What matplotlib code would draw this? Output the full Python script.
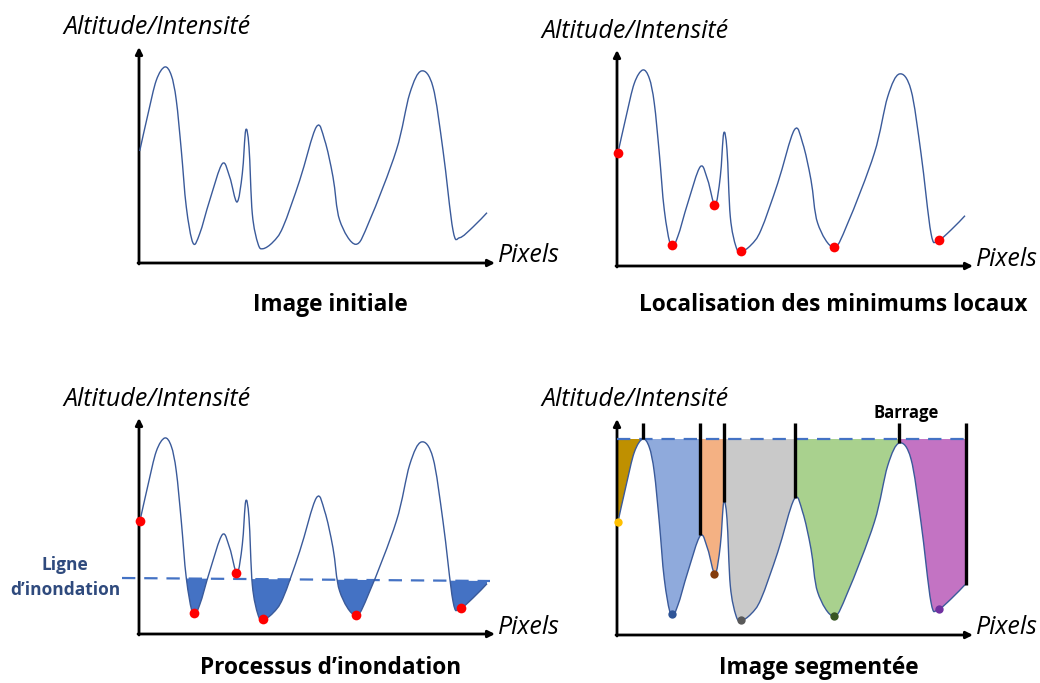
import matplotlib
matplotlib.use("Agg")
import matplotlib.pyplot as plt
from matplotlib.path import Path
from matplotlib.patches import PathPatch, Rectangle, Polygon
from matplotlib.transforms import Affine2D

plt.rcParams['font.family'] = ['Open Sans', 'DejaVu Sans']

# ---- data: relief profile (local coords: pixels along x, altitude along y) ----
curve_x = [0.7, 9, 17.3, 25.7, 32.3, 37.3, 42.3, 47.3, 54, 60.7, 70.7, 83.3, 90.7, 98,
           103.3, 106.7, 110, 113.3, 119, 124, 134, 144, 160.7, 177.3, 185.7, 194,
           200.7, 216.7, 230.7, 257.3, 270.7, 282.3, 294, 304, 314, 320.7, 334, 348]
curve_y = [112, 149, 182.7, 196, 187.7, 162.7, 112.7, 56, 20, 29.3, 62.7, 99.3, 86, 61,
           89.3, 132.7, 116, 49.3, 19.3, 14.3, 21, 36, 82.7, 136, 122.7, 86,
           42.7, 18.7, 42.7, 112.7, 169.3, 192, 176, 112.7, 32.7, 25.3, 36, 50.3]

# local minima
min_x = [0.7, 55, 97, 124, 217, 322]
min_y = [113, 21, 61, 15, 19, 26]
seg_dot_colors = ['#FFC000', '#2F5597', '#843C0C', '#595959', '#375623', '#7030A0']

# flood level (panel 3) sloping slightly
flood3_x = [-17, 351]
flood3_y = [56, 53]

# panel 4: flood level and barriers
flood4 = 196
barrier_x = [26, 83, 107, 178, 282, 349]
barrier_bottom = [196, 100, 133, 137, 192, 50]
barrier_top = 212
region_bounds = [0.7, 26, 83, 107, 178, 282, 349]
region_colors = ['#BF9000', '#8FAADC', '#F4B183', '#C9C9C9', '#A9D18E', '#C373C3']

titles = ['Image initiale', 'Localisation des minimums locaux',
          'Processus d\u2019inondation', 'Image segment\u00e9e']
origins = [(139, 263), (617, 266), (139, 634), (617, 635)]
title_pos = [(330, 305), (833, 305), (331, 668), (819, 668)]

CURVE_COLOR = '#3A5A9A'

fig = plt.figure(figsize=(10.4, 6.83), dpi=100)
ax = fig.add_axes([0, 0, 1, 1])
ax.set_xlim(0, 1040)
ax.set_ylim(683, 0)
ax.axis('off')


def bezier_path(xs, ys, extra=None):
    pts = list(zip(xs, ys))
    n = len(pts)
    verts = [pts[0]]
    codes = [Path.MOVETO]
    for i in range(n - 1):
        p0 = pts[i - 1] if i > 0 else pts[i]
        p1 = pts[i]
        p2 = pts[i + 1]
        p3 = pts[i + 2] if i + 2 < n else pts[i + 1]
        c1 = (p1[0] + (p2[0] - p0[0]) / 6, p1[1] + (p2[1] - p0[1]) / 6)
        c2 = (p2[0] - (p3[0] - p1[0]) / 6, p2[1] - (p3[1] - p1[1]) / 6)
        verts += [c1, c2, p2]
        codes += [Path.CURVE4] * 3
    if extra:
        for v in extra:
            verts.append(v)
            codes.append(Path.LINETO)
        verts.append(verts[0])
        codes.append(Path.CLOSEPOLY)
    return Path(verts, codes)


def panel_transform(o):
    return Affine2D().scale(1, -1).translate(o[0], o[1]) + ax.transData


for k, o in enumerate(origins):
    tr = panel_transform(o)
    # axes arrows
    ax.annotate('', xy=(o[0], o[1] - 216), xytext=(o[0], o[1] + 1),
                arrowprops=dict(arrowstyle='-|>', lw=2.0, color='black',
                                mutation_scale=10, shrinkA=0, shrinkB=0))
    ax.annotate('', xy=(o[0] + 356, o[1]), xytext=(o[0] - 1, o[1]),
                arrowprops=dict(arrowstyle='-|>', lw=2.0, color='black',
                                mutation_scale=10, shrinkA=0, shrinkB=0))
    ax.text(o[0] - 76, o[1] - 235, 'Altitude/Intensit\u00e9', style='italic',
            fontsize=18, ha='left', va='center')
    ax.text(o[0] + 359, o[1] - 7, 'Pixels', style='italic', fontsize=18,
            ha='left', va='center')
    ax.text(title_pos[k][0], title_pos[k][1], titles[k], fontsize=16.3,
            fontweight='bold', ha='center', va='center')

    if k == 2:
        above = bezier_path(curve_x, curve_y,
                            extra=[(curve_x[-1], 400), (curve_x[0], 400)])
        fill = PathPatch(above, transform=tr, facecolor='#4472C4',
                         edgecolor='none', zorder=2)
        clip = Polygon([(flood3_x[0], flood3_y[0]), (flood3_x[1], flood3_y[1]),
                        (flood3_x[1], -20), (flood3_x[0], -20)],
                       closed=True, transform=tr)
        ax.add_patch(fill)
        fill.set_clip_path(clip)
        ax.plot(flood3_x, flood3_y, transform=tr, color='#4472C4', lw=1.6,
                dashes=(6, 4), zorder=3)
        ax.text(65, 565, 'Ligne', fontsize=12.5, fontweight='bold',
                color='#2F4A7D', ha='center', va='center')
        ax.text(65, 590, 'd\u2019inondation', fontsize=12.5, fontweight='bold',
                color='#2F4A7D', ha='center', va='center')

    if k == 3:
        for i, col in enumerate(region_colors):
            above = bezier_path(curve_x, curve_y,
                                extra=[(curve_x[-1], 400), (curve_x[0], 400)])
            fill = PathPatch(above, transform=tr, facecolor=col,
                             edgecolor='none', zorder=2)
            x0, x1 = region_bounds[i], region_bounds[i + 1]
            clip = Rectangle((x0, -20), x1 - x0, flood4 + 20, transform=tr)
            ax.add_patch(fill)
            fill.set_clip_path(clip)
        ax.plot([0, 349], [flood4, flood4], transform=tr, color='#4472C4',
                lw=1.6, dashes=(6, 4), zorder=3)
        for bx, bb in zip(barrier_x, barrier_bottom):
            ax.plot([bx, bx], [bb, barrier_top], transform=tr, color='black',
                    lw=2.4, solid_capstyle='butt', zorder=5)
        ax.text(906, 413, 'Barrage', fontsize=12, fontweight='bold',
                ha='center', va='center')

    ax.add_patch(PathPatch(bezier_path(curve_x, curve_y), transform=tr,
                           facecolor='none', edgecolor=CURVE_COLOR, lw=1.0,
                           zorder=4))

    if k in (1, 2):
        ax.plot(min_x, min_y, 'o', transform=tr, color='#FF0000',
                markersize=7, markeredgewidth=0, zorder=6)
    if k == 3:
        for mx, my, c in zip(min_x, min_y, seg_dot_colors):
            ax.plot([mx], [my], 'o', transform=tr, color=c, markersize=6,
                    markeredgewidth=0, zorder=6)

fig.savefig('out.png', dpi=100)
